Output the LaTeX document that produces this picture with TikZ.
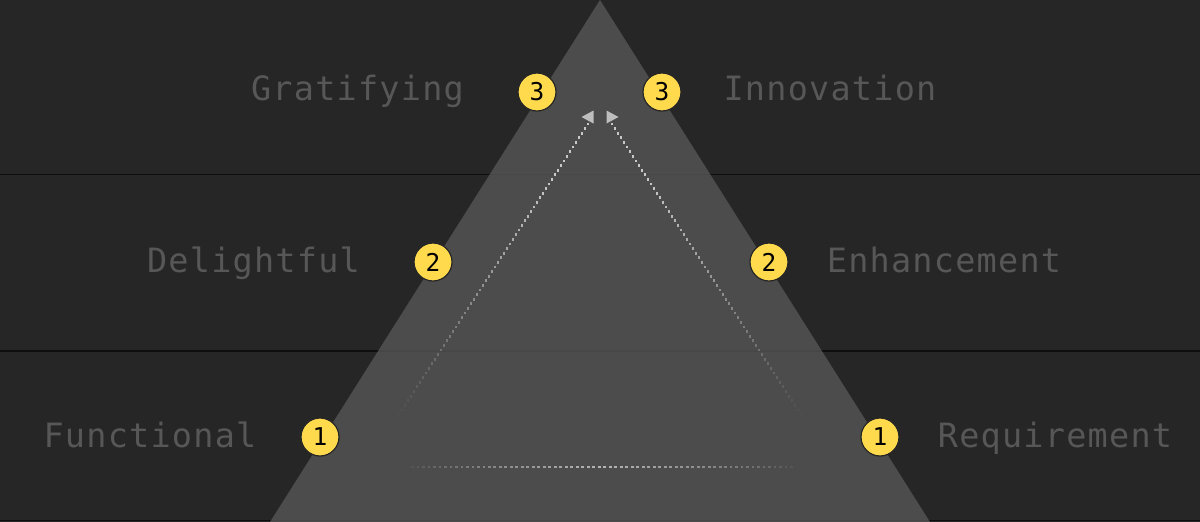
\documentclass[tikz,border=0pt]{standalone}
\usepackage{fontspec}
\newfontfamily\labfont[LetterSpace=3.7]{DejaVu Sans Mono}
\newfontfamily\numfont{DejaVu Sans Mono}
\usetikzlibrary{calc}
\definecolor{bg}{HTML}{262626}
\definecolor{bandc}{HTML}{0E0E0E}
\definecolor{tric}{HTML}{565656}
\definecolor{trieff}{HTML}{4C4C4C}
\definecolor{dotc}{HTML}{C8C8C8}
\definecolor{labc}{HTML}{575757}
\definecolor{badge}{HTML}{FFDA4D}
\tikzset{
  bandline/.style={draw=bandc, line width=1.6pt},
  lab/.style={text=labc, inner sep=0pt, anchor=base, font=\labfont\fontsize{33.5}{34}\selectfont},
  num/.style={circle, fill=badge, draw=black!85, line width=1.2pt, minimum size=38pt, inner sep=0pt,
              text=black, font=\numfont\fontsize{24.5}{24.5}\selectfont},
  tip/.style={fill=dotc!92!trieff}
}
\begin{document}
\begin{tikzpicture}[x=1pt,y=-1pt]
\useasboundingbox (0,0) rectangle (1200,522);
\fill[bg] (0,0) rectangle (1200,522);
% band lines
\coordinate (b1l) at (0,174.5);   \coordinate (b1r) at (1200,174.5);
\coordinate (b2l) at (0,351);     \coordinate (b2r) at (1200,351);
\coordinate (b3l) at (0,520.8);   \coordinate (b3r) at (1200,520.8);
\draw[bandline] (b1l) -- (b1r);
\draw[bandline] (b2l) -- (b2r);
\draw[draw=bandc, line width=1pt] (b3l) -- (b3r);
% triangle
\coordinate (apex) at (600,0);
\coordinate (bL) at (270,522);
\coordinate (bR) at (930,522);
\fill[tric, opacity=0.8] (apex) -- (bL) -- (bR) -- cycle;
% dotted connectors
\coordinate (Lb) at (387,433); \coordinate (Lt) at (588,124);
\coordinate (Rb) at (813,433); \coordinate (Rt) at (612,124);
\coordinate (Bl) at (407,467); \coordinate (Br) at (797,467);
\foreach \i in {0,...,67}{
  \pgfmathsetmacro\t{\i/67}
  \pgfmathsetmacro\m{min(100,max(0,\t*130-6))}
  \fill[dotc!\m!trieff] ($(Lb)!\t!(Lt)$) ++(-1.4,-1.4) rectangle ++(2.8,2.8);
  \fill[dotc!\m!trieff] ($(Rb)!\t!(Rt)$) ++(-1.4,-1.4) rectangle ++(2.8,2.8);
}
\foreach \i in {0,...,71}{
  \pgfmathsetmacro\t{\i/71}
  \pgfmathsetmacro\m{max(0,85*(1-abs(2*\t-1))^0.7)}
  \fill[dotc!\m!trieff] ($(Bl)!\t!(Br)$) ++(-1.4,-1.4) rectangle ++(2.8,2.8);
}
% arrow tips
\fill[tip] ($(Lt)+(-6.5,-7)$) -- ($(Lt)+(5.5,-13.5)$) -- ($(Lt)+(5.5,-0.5)$) -- cycle;
\fill[tip] ($(Rt)+(6.5,-7)$) -- ($(Rt)+(-5.5,-13.5)$) -- ($(Rt)+(-5.5,-0.5)$) -- cycle;
% labels
\node[lab] (grat) at (357.5,100) {Gratifying};
\node[lab] (inno) at (830,100) {Innovation};
\node[lab] (deli) at (253.5,272) {Delightful};
\node[lab] (enha) at (944,272) {Enhancement};
\node[lab] (func) at (150,447) {Functional};
\node[lab] (requ) at (1055,447) {Requirement};
% badges
\node[num] (n3l) at (537,92) {3};
\node[num] (n3r) at (662,92) {3};
\node[num] (n2l) at (433,262) {2};
\node[num] (n2r) at (769,262) {2};
\node[num] (n1l) at (320,437) {1};
\node[num] (n1r) at (880,437) {1};
\end{tikzpicture}
\end{document}
